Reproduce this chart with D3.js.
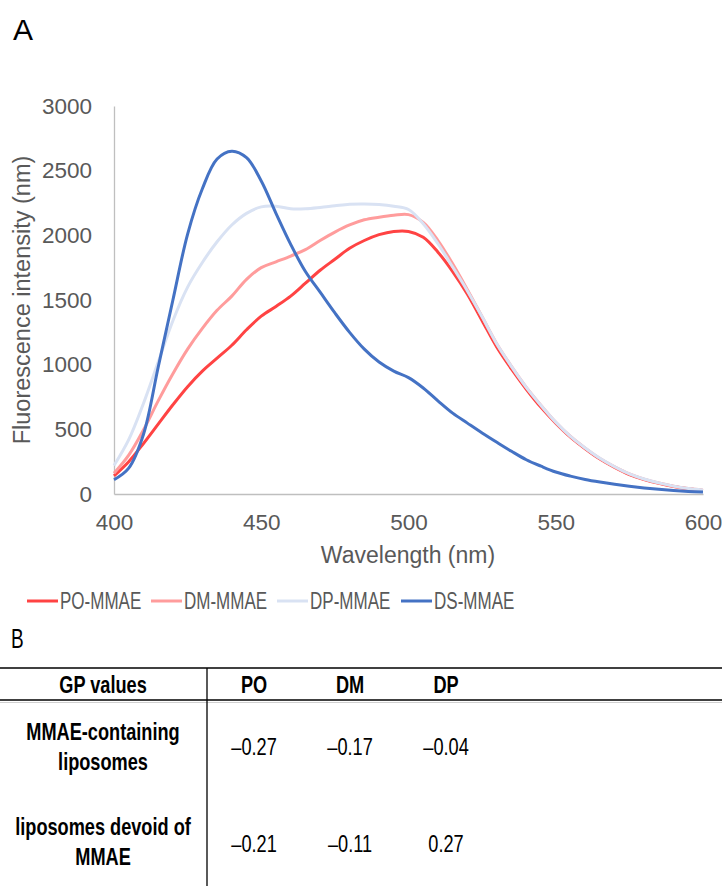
<!DOCTYPE html>
<html>
<head>
<meta charset="utf-8">
<script src="https://cdn.jsdelivr.net/npm/d3@7"></script>
<style>
  body { margin: 0; background: #fff; }
  svg { display: block; }
</style>
</head>
<body>
<script>
// Emission spectra (5 nm steps)
const wavelengths = d3.range(400, 601, 5);
const poMMAE = [140, 250, 390, 540, 690, 830, 950, 1050, 1150, 1270, 1375, 1450, 1530, 1630, 1730, 1815, 1900, 1960, 2005, 2030, 2030, 1985, 1870, 1720, 1545, 1340, 1135, 965, 810, 670, 548, 440, 350, 270, 205, 150, 112, 82, 58, 40, 28];
const dmMMAE = [160, 300, 495, 720, 930, 1120, 1280, 1420, 1530, 1660, 1750, 1795, 1840, 1890, 1960, 2025, 2080, 2120, 2140, 2155, 2160, 2100, 1960, 1780, 1580, 1370, 1160, 985, 825, 685, 555, 445, 355, 275, 210, 155, 115, 85, 60, 42, 30];
const dpMMAE = [220, 420, 700, 1020, 1340, 1600, 1790, 1950, 2080, 2170, 2220, 2225, 2205, 2205, 2215, 2228, 2240, 2242, 2238, 2225, 2200, 2090, 1935, 1755, 1570, 1370, 1160, 985, 825, 685, 556, 446, 356, 276, 211, 156, 116, 86, 61, 43, 31];
const dsMMAE = [110, 200, 460, 980, 1500, 2010, 2360, 2590, 2650, 2600, 2420, 2170, 1930, 1720, 1560, 1400, 1250, 1120, 1020, 950, 900, 820, 720, 625, 548, 472, 400, 330, 265, 215, 170, 138, 112, 92, 75, 60, 47, 36, 27, 20, 15];

const seriesNames = ["PO-MMAE", "DM-MMAE", "DP-MMAE", "DS-MMAE"];
const seriesColors = ["#ff4343", "#ff9c9c", "#d9e2f3", "#4472c4"];
const seriesValues = [poMMAE, dmMMAE, dpMMAE, dsMMAE];

const xTicks = [400, 450, 500, 550, 600];
const yTicks = [0, 500, 1000, 1500, 2000, 2500, 3000];

// GP values table
const tableColumns = ["PO", "DM", "DP"];
const tableRows = [["MMAE-containing", "liposomes"], ["liposomes devoid of", "MMAE"]];
const gpValues = [["–0.27", "–0.17", "–0.04"], ["–0.21", "–0.11", "0.27"]];

const W = 722, H = 886;
const svg = d3.select("body").append("svg").attr("width", W).attr("height", H);
svg.append("rect").attr("width", W).attr("height", H).attr("fill", "#fff");

const font = "'Liberation Sans', Arial, sans-serif";
const grey = "#595959";

// panel letters
svg.append("text").attr("x", 13).attr("y", 40).text("A")
  .attr("font-family", font).attr("font-size", 30).attr("fill", "#000");
svg.append("text").attr("transform", "translate(11,648) scale(0.68,1)").text("B")
  .attr("font-family", font).attr("font-size", 28).attr("fill", "#000");

// ---- chart ----
const x = d3.scaleLinear().domain([400, 600]).range([114, 703]);
const y = d3.scaleLinear().domain([0, 3000]).range([494, 106]);

const xAxis = svg.append("g").attr("transform", "translate(0,494)")
  .call(d3.axisBottom(x).tickValues(xTicks).tickSize(0).tickPadding(20));
const yAxis = svg.append("g").attr("transform", "translate(114,0)")
  .call(d3.axisLeft(y).tickValues(yTicks).tickFormat(d3.format("d")).tickSize(0).tickPadding(22));

[xAxis, yAxis].forEach(g => {
  g.select(".domain").attr("stroke", "#bfbfbf").attr("stroke-width", 1.3);
  g.selectAll("text").attr("font-family", font).attr("font-size", 22.5).attr("fill", grey);
});
xAxis.selectAll("text").attr("dy", "0.71em");

svg.append("text").attr("x", 408).attr("y", 563).attr("text-anchor", "middle")
  .text("Wavelength (nm)")
  .attr("font-family", font).attr("font-size", 23).attr("fill", grey);
svg.append("text").attr("transform", "translate(30,300) rotate(-90)").attr("text-anchor", "middle")
  .text("Fluorescence intensity (nm)")
  .attr("font-family", font).attr("font-size", 23.5).attr("fill", grey);

const line = d3.line()
  .x((d, i) => x(wavelengths[i]))
  .y(d => y(d))
  .curve(d3.curveCatmullRom.alpha(0.5));

svg.append("g").selectAll("path")
  .data(seriesValues)
  .join("path")
  .attr("d", line)
  .attr("fill", "none")
  .attr("stroke", (d, i) => seriesColors[i])
  .attr("stroke-width", 3)
  .attr("stroke-linejoin", "round");

// legend
const legendX = [27, 151, 277, 401];
const legend = svg.append("g").selectAll("g")
  .data(seriesNames)
  .join("g")
  .attr("transform", (d, i) => `translate(${legendX[i]},601)`);
legend.append("line").attr("x1", 0).attr("x2", 31)
  .attr("stroke", (d, i) => seriesColors[i]).attr("stroke-width", 3);
legend.append("text").attr("transform", "translate(33,8) scale(0.74,1)")
  .text(d => d)
  .attr("font-family", font).attr("font-size", 23).attr("fill", grey);

// ---- table ----
const colX = d3.scaleOrdinal().domain(tableColumns).range([254, 350, 446]);
const table = svg.append("g");
table.append("line").attr("x1", 0).attr("x2", W).attr("y1", 668).attr("y2", 668)
  .attr("stroke", "#000").attr("stroke-width", 1.3);
table.append("line").attr("x1", 0).attr("x2", W).attr("y1", 700).attr("y2", 700)
  .attr("stroke", "#000").attr("stroke-width", 1.3);
table.append("line").attr("x1", 0).attr("x2", W).attr("y1", 702.5).attr("y2", 702.5)
  .attr("stroke", "#d0d0d0").attr("stroke-width", 1);
table.append("line").attr("x1", 207).attr("x2", 207).attr("y1", 668).attr("y2", H)
  .attr("stroke", "#000").attr("stroke-width", 1.3);

function cellText(txt, cx, by, bold) {
  table.append("text")
    .attr("transform", `translate(${cx},${by}) scale(0.79,1)`)
    .attr("text-anchor", "middle")
    .text(txt)
    .attr("font-family", font).attr("font-size", 23)
    .attr("font-weight", bold ? "bold" : "normal").attr("fill", "#000");
}

cellText("GP values", 103, 693, true);
tableColumns.forEach(c => cellText(c, colX(c), 693, true));

const rowBase = [740, 835];
const valueBase = [755, 852];
tableRows.forEach((lines, r) => {
  lines.forEach((t, k) => cellText(t, 103, rowBase[r] + k * 30, true));
  gpValues[r].forEach((v, c) => cellText(v, colX(tableColumns[c]), valueBase[r], false));
});
</script>
</body>
</html>
